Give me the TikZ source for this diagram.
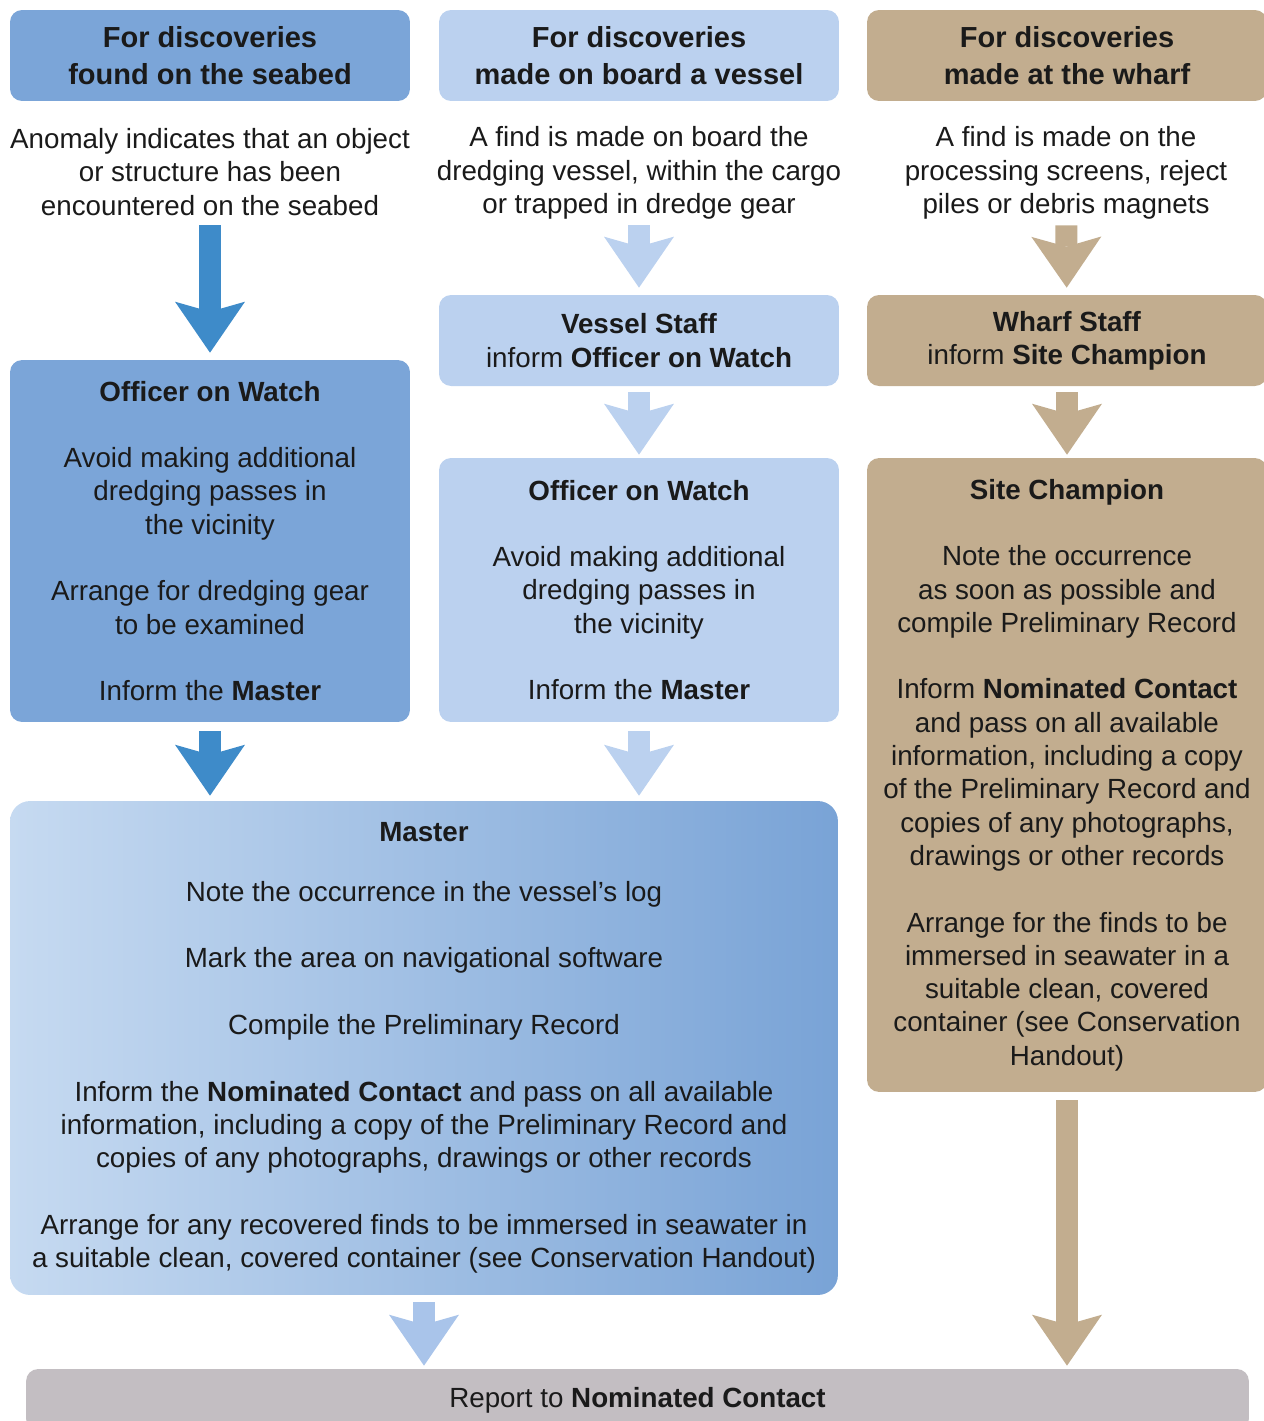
\documentclass[tikz,border=0pt]{standalone}
\usepackage{fontspec}
\setmainfont{Liberation Sans}
\usetikzlibrary{arrows.meta}

\definecolor{ink}{HTML}{1A1A1A}
\definecolor{seabed}{HTML}{7BA5D8}
\definecolor{seadark}{HTML}{3E8BC9}
\definecolor{vessel}{HTML}{BBD1EF}
\definecolor{vesselarrow}{HTML}{A9C4EA}
\definecolor{wharf}{HTML}{C2AD8F}
\definecolor{report}{HTML}{C3BEC2}
\definecolor{masterleft}{HTML}{C6DAF1}
\definecolor{masterright}{HTML}{79A3D6}

\newcommand{\bodyfont}{\fontsize{15.8}{18.95}\selectfont}
\newcommand{\hdrfont}{\fontsize{16.5}{21}\selectfont\bfseries}

\begin{document}
\begin{tikzpicture}[
  x=0.02cm, y=-0.02cm,
  font=\bodyfont,
  every node/.style={align=center, text=ink, inner sep=0pt},
  header/.style={rounded corners=0.24cm, minimum width=8cm, minimum height=1.82cm, font=\hdrfont},
  stage/.style={rounded corners=0.24cm, minimum width=8cm},
  finding/.style={minimum height=2cm},
  flow/.style={line width=0.44cm, -{Stealth[length=1.02cm, width=1.4cm, inset=0.2cm, line width=0pt]}}]

  \useasboundingbox (0,0) rectangle (1264,1421);

  % Three starting points, one per column
  \node[header, fill=seabed] (head-seabed) at (210,55.5) {For discoveries\\found on the seabed};
  \node[header, fill=vessel] (head-vessel) at (639,55.5) {For discoveries\\made on board a vessel};
  \node[header, fill=wharf] (head-wharf) at (1067,55.5) {For discoveries\\made at the wharf};

  \node[finding] (find-seabed) at (210,172) {Anomaly indicates that an object\\or structure has been\\encountered on the seabed};
  \node[finding] (find-vessel) at (639,173) {A find is made on board the\\dredging vessel, within the cargo\\or trapped in dredge gear};
  \node[finding] (find-wharf) at (1066,173) {A find is made on the\\processing screens, reject\\piles or debris magnets};

  \node[stage, fill=vessel, minimum height=1.82cm] (vessel-staff) at (639,340.5)
    {\textbf{Vessel Staff}\\inform \textbf{Officer on Watch}};
  \node[stage, fill=wharf, minimum height=1.82cm] (wharf-staff) at (1067,340.5)
    {\textbf{Wharf Staff}\\inform \textbf{Site Champion}};

  \node[stage, fill=seabed, minimum height=7.24cm] (watch-seabed) at (210,541)
    {\textbf{Officer on Watch}\\[\baselineskip]Avoid making additional\\dredging passes in\\the vicinity\\[\baselineskip]Arrange for dredging gear\\to be examined\\[\baselineskip]Inform the \textbf{Master}};
  \node[stage, fill=vessel, minimum height=5.28cm] (watch-vessel) at (639,590)
    {\textbf{Officer on Watch}\\[\baselineskip]Avoid making additional\\dredging passes in\\the vicinity\\[\baselineskip]Inform the \textbf{Master}};
  \node[stage, fill=wharf, minimum height=12.68cm] (champion) at (1067,775)
    {\textbf{Site Champion}\\[\baselineskip]Note the occurrence\\as soon as possible and\\compile Preliminary Record\\[\baselineskip]Inform \textbf{Nominated Contact}\\and pass on all available\\information, including a copy\\of the Preliminary Record and\\copies of any photographs,\\drawings or other records\\[\baselineskip]Arrange for the finds to be\\immersed in seawater in a\\suitable clean, covered\\container (see Conservation\\Handout)};

  \node[rounded corners=0.4cm, left color=masterleft, right color=masterright, minimum width=16.56cm, minimum height=9.88cm] (master) at (424,1048)
    {\textbf{Master}\\[15pt]Note the occurrence in the vessel’s log\\[\baselineskip]Mark the area on navigational software\\[\baselineskip]Compile the Preliminary Record\\[\baselineskip]Inform the \textbf{Nominated Contact} and pass on all available\\information, including a copy of the Preliminary Record and\\copies of any photographs, drawings or other records\\[\baselineskip]Arrange for any recovered finds to be immersed in seawater in\\a suitable clean, covered container (see Conservation Handout)};

  \node[rounded corners=0.24cm, fill=report, minimum width=24.46cm, minimum height=1.24cm] (report-contact) at (637.5,1400)
    {Report to \textbf{Nominated Contact}};

  \draw[flow, seadark, shorten <=0.06cm, shorten >=0.14cm] (find-seabed) -- (watch-seabed);
  \draw[flow, vessel, shorten <=0.04cm, shorten >=0.14cm] (find-vessel) -- (vessel-staff);
  \draw[flow, wharf, shorten <=0.04cm, shorten >=0.14cm] (find-wharf) -- (wharf-staff);
  \draw[flow, vessel, shorten <=0.12cm, shorten >=0.06cm] (vessel-staff) -- (watch-vessel);
  \draw[flow, wharf, shorten <=0.12cm, shorten >=0.06cm] (wharf-staff) -- (champion);
  \draw[flow, seadark, shorten <=0.18cm, shorten >=0.1cm] (watch-seabed.south) -- (watch-seabed.south |- master.north);
  \draw[flow, vessel, shorten <=0.18cm, shorten >=0.1cm] (watch-vessel.south) -- (watch-vessel.south |- master.north);
  \draw[flow, vesselarrow, shorten <=0.14cm, shorten >=0.06cm] (master.south) -- (master.south |- report-contact.north);
  \draw[flow, wharf, shorten <=0.16cm, shorten >=0.06cm] (champion.south) -- (champion.south |- report-contact.north);

\end{tikzpicture}
\end{document}
